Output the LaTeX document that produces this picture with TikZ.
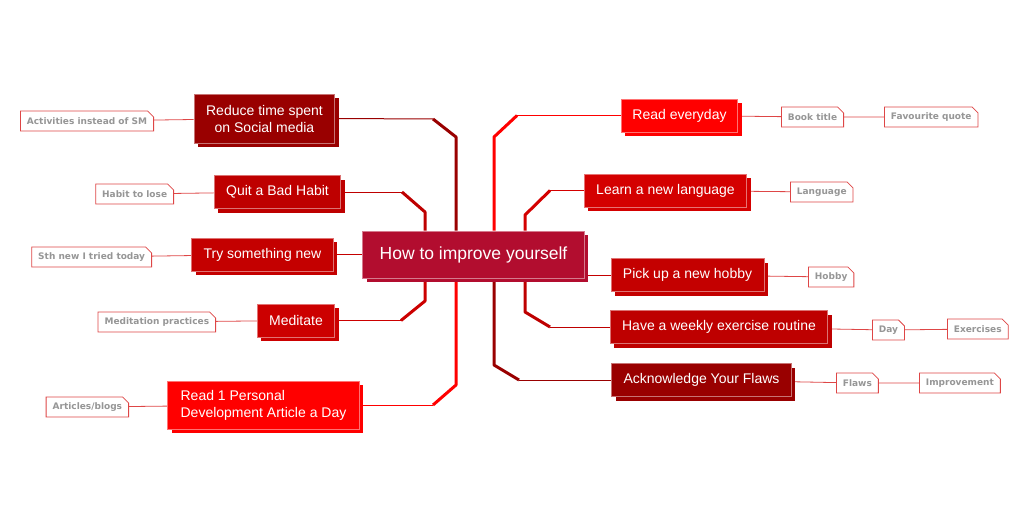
\documentclass[tikz,border=0pt]{standalone}
\usepackage{fontspec}
\setmainfont{Liberation Sans}
\newfontfamily\leaffont{DejaVu Sans}
\usepackage{tikz}
\usetikzlibrary{positioning, shadows, shapes.misc, backgrounds, calc}
\definecolor{hubred}{RGB}{178,13,47}
\definecolor{darkred}{RGB}{153,0,0}
\definecolor{midred}{RGB}{190,0,0}
\definecolor{tryred}{RGB}{196,0,0}
\definecolor{medred}{RGB}{204,0,0}
\definecolor{learnred}{RGB}{212,0,0}
\definecolor{brightred}{RGB}{255,0,0}
\definecolor{leafline}{RGB}{222,70,70}
\definecolor{leafgray}{RGB}{150,150,150}
\tikzset{
	topicbox/.style={fill=#1, draw=#1!55!white, line width=0.8pt,
		text=white, font=\fontsize{14}{17}\selectfont,
		inner xsep=12pt, inner ysep=0pt, minimum height=33pt,
		general shadow={fill=#1, shadow xshift=4pt, shadow yshift=-4pt}}
}
\tikzset{
	leafbox/.style={chamfered rectangle, chamfered rectangle corners=north east,
		chamfered rectangle xsep=3pt, chamfered rectangle ysep=3pt,
		draw=leafline, fill=white, line width=0.8pt, text=leafgray,
		font=\leaffont\bfseries\fontsize{9}{10}\selectfont,
		inner xsep=3.5pt, inner ysep=0pt, minimum height=20pt}
}
\tikzset{
	twig/.style={draw=leafline, line width=0.8pt},
	limb/.style={draw=#1, line width=1pt},
	trunk/.style={draw=#1, line width=3pt, line join=bevel}
}

\begin{document}
\begin{tikzpicture}[x=1pt, y=-1pt]
      \useasboundingbox (0,0) rectangle (1024,511);
      % hub
      \node[topicbox=hubred, font=\fontsize{17.5}{20}\selectfont, inner xsep=17pt, minimum height=47pt] (hub) at (473.5,254.5) {How to improve yourself};
      % left topics
      \node[topicbox=darkred, align=center, minimum height=49pt, font=\fontsize{14}{17}\selectfont] (reduce) at (264.5,118.5) {Reduce time spent\\on Social media};
      \node[topicbox=midred] (quit) at (277.5,192) {Quit a Bad Habit};
      \node[topicbox=tryred] (try) at (262.5,254.5) {Try something new};
      \node[topicbox=medred] (meditate) at (296,320.5) {Meditate};
      \node[topicbox=brightred, align=left, minimum height=48pt, inner xsep=13pt] (readone) at (263.5,405) {Read 1 Personal\\Development Article a Day};
      % right topics
      \node[topicbox=brightred, inner xsep=11pt] (readday) at (679.5,115.5) {Read everyday};
      \node[topicbox=learnred] (learn) at (665.5,190.5) {Learn a new language};
      \node[topicbox=tryred] (hobby) at (687.5,275) {Pick up a new hobby};
      \node[topicbox=midred] (exercise) at (719,327) {Have a weekly exercise routine};
      \node[topicbox=darkred] (flaws) at (701.5,380) {Acknowledge Your Flaws};
      % leaves
      \node[leafbox, anchor=east] (actsm) at (154,121) {Activities instead of SM};
      \node[leafbox, anchor=east] (habitlose) at (174,194) {Habit to lose};
      \node[leafbox, anchor=east] (sthnew) at (152,257) {Sth new I tried today};
      \node[leafbox, anchor=east] (medprac) at (216,322) {Meditation practices};
      \node[leafbox, anchor=east] (articles) at (129,407) {Articles/blogs};
      \node[leafbox, anchor=west] (booktitle) at (781,117) {Book title};
      \node[leafbox, anchor=west] (favquote) at (884,117) {Favourite quote};
      \node[leafbox, anchor=west] (language) at (790,192) {Language};
      \node[leafbox, anchor=west] (hobbyleaf) at (808,277) {Hobby};
      \node[leafbox, anchor=west] (day) at (872,330) {Day};
      \node[leafbox, anchor=west] (exercises) at (947,329) {Exercises};
      \node[leafbox, anchor=west] (flawsleaf) at (836,383) {Flaws};
      \node[leafbox, anchor=west] (improvement) at (919,383) {Improvement};
      % bends of the branches
      \coordinate (bReduce) at (456,137);
      \coordinate (eReduce) at (433,119);
      \coordinate (bQuit) at (425,212);
      \coordinate (eQuit) at (402,192);
      \coordinate (bMed) at (425,301);
      \coordinate (eMed) at (401,320.5);
      \coordinate (bReadone) at (456,385);
      \coordinate (eReadone) at (433,405);
      \coordinate (bReadday) at (494,137);
      \coordinate (eReadday) at (517,115.5);
      \coordinate (bLearn) at (525,215);
      \coordinate (eLearn) at (550,190.5);
      \coordinate (bExercise) at (525,312);
      \coordinate (eExercise) at (550,327);
      \coordinate (bFlaws) at (494,365);
      \coordinate (eFlaws) at (519,380);
      \begin{scope}[on background layer]
        \draw[trunk=darkred] (bReduce |- hub.north) -- (bReduce) -- (eReduce);
        \draw[limb=darkred] (eReduce) -- (reduce.east);
        \draw[trunk=midred] (bQuit |- hub.north) -- (bQuit) -- (eQuit);
        \draw[limb=midred] (eQuit) -- (quit.east);
        \draw[limb=tryred] (hub.west) -- (try.east);
        \draw[trunk=medred] (bMed |- hub.south) -- (bMed) -- (eMed);
        \draw[limb=medred] (eMed) -- (meditate.east);
        \draw[trunk=brightred] (bReadone |- hub.south) -- (bReadone) -- (eReadone);
        \draw[limb=brightred] (eReadone) -- (readone.east);
        \draw[trunk=brightred] (bReadday |- hub.north) -- (bReadday) -- (eReadday);
        \draw[limb=brightred] (eReadday) -- (readday.west);
        \draw[trunk=learnred] (bLearn |- hub.north) -- (bLearn) -- (eLearn);
        \draw[limb=learnred] (eLearn) -- (learn.west);
        \draw[limb=tryred] (hobby.west -| hub.east) -- (hobby.west);
        \draw[trunk=midred] (bExercise |- hub.south) -- (bExercise) -- (eExercise);
        \draw[limb=midred] (eExercise) -- (exercise.west);
        \draw[trunk=darkred] (bFlaws |- hub.south) -- (bFlaws) -- (eFlaws);
        \draw[limb=darkred] (eFlaws) -- (flaws.west);
        % leaf twigs
        \draw[twig] (actsm) -- (reduce);
        \draw[twig] (habitlose) -- (quit);
        \draw[twig] (sthnew) -- (try);
        \draw[twig] (medprac) -- (meditate);
        \draw[twig] (articles) -- (readone);
        \draw[twig] (readday) -- (booktitle) -- (favquote);
        \draw[twig] (learn) -- (language);
        \draw[twig] (hobby) -- (hobbyleaf);
        \draw[twig] (exercise) -- (day) -- (exercises);
        \draw[twig] (flaws) -- (flawsleaf) -- (improvement);
      \end{scope}
    \end{tikzpicture}
\end{document}
